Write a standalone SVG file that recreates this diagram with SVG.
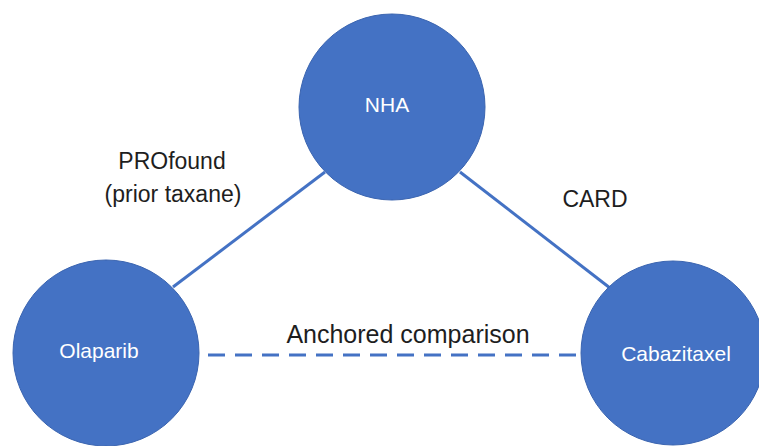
<svg xmlns="http://www.w3.org/2000/svg" width="759" height="446" viewBox="0 0 759 446">
<style>
.node{fill:#4472C4;stroke:#3A64B0;stroke-width:1}
.ntxt{font-family:"Liberation Sans",Arial,sans-serif;font-size:21px;fill:#FFFFFF;text-anchor:middle}
.lbl{font-family:"Liberation Sans",Arial,sans-serif;font-size:23px;fill:#1E1E1E;text-anchor:middle}
.big{font-size:25px}
.edge{stroke:#4472C4;stroke-width:3;fill:none}
.dash{stroke-dasharray:17 10}
</style>
<rect width="759" height="446" fill="#FFFFFF"/>
<g id="connectors">
<line class="edge" x1="173" y1="287" x2="325" y2="172"/>
<line class="edge" x1="460" y1="172" x2="610" y2="288"/>
<line class="edge dash" x1="208" y1="355" x2="582" y2="355"/>
</g>
<g id="labels">
<text class="lbl" x="172" y="169">PROfound</text>
<text class="lbl" x="173" y="202">(prior taxane)</text>
<text class="lbl" x="595" y="207">CARD</text>
<text class="lbl big" x="408" y="343">Anchored comparison</text>
</g>
<g id="node-nha">
<circle class="node" cx="392" cy="107" r="93"/>
<text class="ntxt" x="387" y="112">NHA</text>
</g>
<g id="node-olaparib">
<circle class="node" cx="106" cy="353" r="93"/>
<text class="ntxt" x="99" y="358">Olaparib</text>
</g>
<g id="node-cabazitaxel">
<circle class="node" cx="673" cy="353" r="92"/>
<text class="ntxt" x="676" y="361">Cabazitaxel</text>
</g>
</svg>
